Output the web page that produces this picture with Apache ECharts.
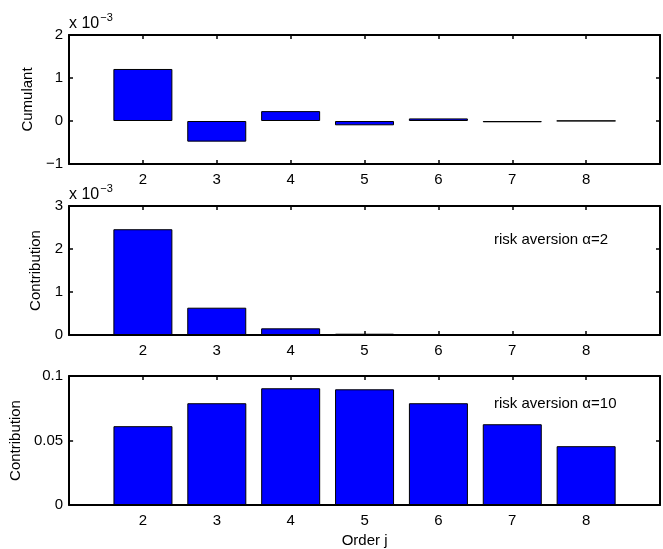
<!DOCTYPE html>
<html>
<head>
<meta charset="utf-8">
<script src="https://cdn.jsdelivr.net/npm/echarts@6/dist/echarts.min.js"></script>
<style>
html,body{margin:0;padding:0;background:#fff;}
#main{width:663px;height:549px;}
</style>
</head>
<body>
<div id="main"></div>
<script>
// orders on the x axis
var orders = [2, 3, 4, 5, 6, 7, 8];
// cumulants (x 10^-3)
var cumulant = [1.21, -0.48, 0.23, -0.10, 0.06, -0.03, 0.005];
// contribution, alpha = 2 (x 10^-3)
var contrib2 = [2.46, 0.635, 0.155, 0.03, 0.005, 0.001, 0.0005];
// contribution, alpha = 10
var contrib10 = [0.0611, 0.0789, 0.0905, 0.0897, 0.0789, 0.0626, 0.0456];

var font = 'Liberation Sans, Arial, Helvetica, sans-serif';
var grids = [
    {left: 69, top: 35, width: 595, height: 129},
    {left: 69, top: 206, width: 595, height: 129},
    {left: 69, top: 376, width: 595, height: 129}
];

function pairs(vals) {
    return orders.map(function (o, i) { return [o, vals[i]]; });
}

function xAxes(g, withName) {
    var bottom = {
        type: 'value', gridIndex: g, min: 1, max: 9, interval: 1, position: 'bottom',
        axisLine: {onZero: false, lineStyle: {color: '#000', width: 2}},
        axisTick: {inside: true, length: 4, lineStyle: {color: '#000', width: 1.5}},
        axisLabel: {
            color: '#000', fontFamily: font, fontSize: 15, margin: 8,
            formatter: function (v) { return (v >= 2 && v <= 8) ? String(v) : ''; }
        },
        splitLine: {show: false}
    };
    if (withName) {
        bottom.name = 'Order j';
        bottom.nameLocation = 'middle';
        bottom.nameGap = 28;
        bottom.nameTextStyle = {color: '#000', fontFamily: font, fontSize: 15};
    }
    var top = {
        type: 'value', gridIndex: g, min: 1, max: 9, interval: 1, position: 'top',
        axisLine: {onZero: false, lineStyle: {color: '#000', width: 2}},
        axisTick: {inside: true, length: 4, lineStyle: {color: '#000', width: 1.5}},
        axisLabel: {show: false},
        splitLine: {show: false}
    };
    return [bottom, top];
}

function yAxes(g, min, max, interval, name, gap, fmt) {
    var left = {
        type: 'value', gridIndex: g, min: min, max: max, interval: interval, position: 'left',
        name: name, nameLocation: 'middle', nameGap: gap, nameRotate: 90,
        nameTextStyle: {color: '#000', fontFamily: font, fontSize: 15},
        axisLine: {show: true, onZero: false, lineStyle: {color: '#000', width: 2}},
        axisTick: {show: true, inside: true, length: 4, lineStyle: {color: '#000', width: 1.5}},
        axisLabel: {color: '#000', fontFamily: font, fontSize: 15, margin: 6, formatter: fmt},
        splitLine: {show: false}
    };
    var right = {
        type: 'value', gridIndex: g, min: min, max: max, interval: interval, position: 'right',
        axisLine: {show: true, onZero: false, lineStyle: {color: '#000', width: 2}},
        axisTick: {show: true, inside: true, length: 4, lineStyle: {color: '#000', width: 1.5}},
        axisLabel: {show: false},
        splitLine: {show: false}
    };
    return [left, right];
}

function intFmt(v) { return v < 0 ? '\u2212' + Math.abs(v) : String(v); }
function decFmt(v) { return String(Math.round(v * 100) / 100); }

var xs = [].concat(xAxes(0, false), xAxes(1, false), xAxes(2, true));
var ys = [].concat(
    yAxes(0, -1, 2, 1, 'Cumulant', 30, intFmt),
    yAxes(1, 0, 3, 1, 'Contribution', 18, intFmt),
    yAxes(2, 0, 0.1, 0.05, 'Contribution', 46, decFmt)
);

function barSeries(xi, yi, vals) {
    return {
        type: 'bar', xAxisIndex: xi, yAxisIndex: yi, data: pairs(vals),
        barWidth: 59, silent: true, animation: false,
        itemStyle: {color: '#0000ff', borderColor: '#000', borderWidth: 1}
    };
}

var expText = function (y) {
    return {
        type: 'text', left: 69, top: y,
        style: {
            text: '{a|x 10}{s|\u22123}',
            rich: {
                a: {fontFamily: font, fontSize: 16, fill: '#000', verticalAlign: 'bottom', lineHeight: 20},
                s: {fontFamily: font, fontSize: 11, fill: '#000', verticalAlign: 'top', lineHeight: 20, padding: [0, 0, 9, 1]}
            }
        }
    };
};

var chart = echarts.init(document.getElementById('main'));
chart.setOption({
    animation: false,
    backgroundColor: '#fff',
    grid: grids,
    xAxis: xs,
    yAxis: ys,
    series: [
        barSeries(0, 0, cumulant),
        barSeries(2, 2, contrib2),
        barSeries(4, 4, contrib10)
    ],
    graphic: [
        expText(12),
        expText(183),
        {type: 'text', left: 494, top: 232,
         style: {text: 'risk aversion \u03b1=2', fontFamily: font, fontSize: 15, fill: '#000'}},
        {type: 'text', left: 494, top: 396,
         style: {text: 'risk aversion \u03b1=10', fontFamily: font, fontSize: 15, fill: '#000'}}
    ]
});
</script>
</body>
</html>
